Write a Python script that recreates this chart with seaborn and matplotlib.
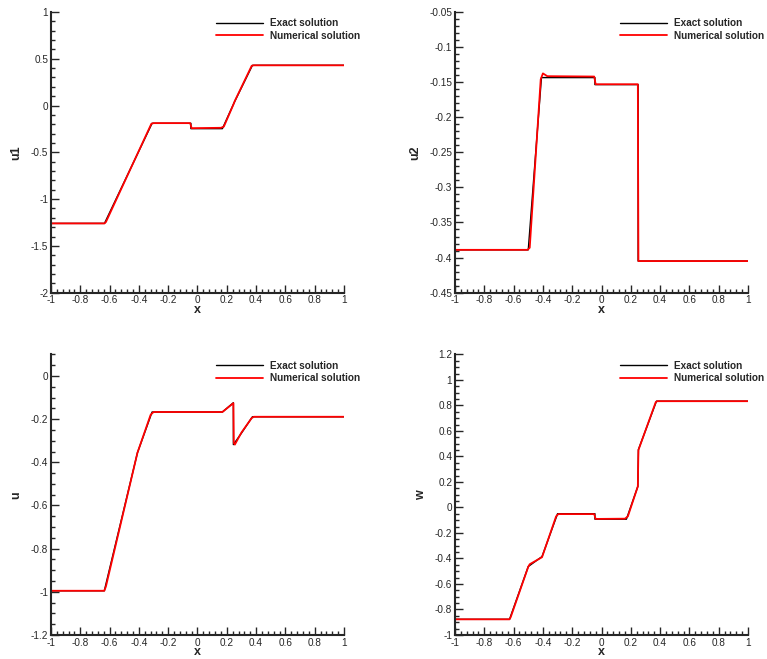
import numpy as np
import pandas as pd
import matplotlib
matplotlib.use('Agg')
import matplotlib.pyplot as plt
import seaborn as sns
from matplotlib.ticker import MultipleLocator

# u1 panel
u1_x_exact = [-1, -0.635, -0.31, -0.045, -0.045, 0.17, 0.25, 0.375, 1]
u1_y_exact = [-1.26, -1.26, -0.19, -0.19, -0.247, -0.247, 0.03, 0.43, 0.43]
u1_x_num = [-1, -0.635, -0.625, -0.315, -0.30, -0.05, -0.04, 0.16, 0.18, 0.245, 0.255, 0.37, 0.385, 1]
u1_y_num = [-1.26, -1.26, -1.245, -0.195, -0.188, -0.188, -0.242, -0.238, -0.225, 0.01, 0.05, 0.425, 0.43, 0.43]

# u2 panel
u2_x_exact = [-1, -0.50, -0.41, -0.045, -0.045, 0.25, 0.25, 1]
u2_y_exact = [-0.389, -0.389, -0.1435, -0.1435, -0.1535, -0.1535, -0.405, -0.405]
u2_x_num = [-1, -0.505, -0.49, -0.415, -0.40, -0.37, -0.05, -0.04, 0.248, 0.252, 1]
u2_y_num = [-0.389, -0.389, -0.386, -0.146, -0.1375, -0.1415, -0.142, -0.153, -0.153, -0.405, -0.405]

# u panel
u_x_exact = [-1, -0.636, -0.41, -0.31, 0.17, 0.245, 0.245, 0.30, 0.375, 1]
u_y_exact = [-0.995, -0.995, -0.356, -0.167, -0.167, -0.124, -0.318, -0.265, -0.189, -0.189]
u_x_num = [-1, -0.636, -0.625, -0.41, -0.32, -0.30, 0.17, 0.245, 0.248, 0.255, 0.30, 0.37, 0.385, 1]
u_y_num = [-0.995, -0.995, -0.975, -0.356, -0.18, -0.167, -0.167, -0.126, -0.31, -0.318, -0.262, -0.195, -0.189, -0.189]

# w panel
w_x_exact = [-1, -0.628, -0.50, -0.406, -0.30, -0.045, -0.045, 0.17, 0.248, 0.252, 0.375, 1]
w_y_exact = [-0.877, -0.877, -0.463, -0.385, -0.049, -0.049, -0.092, -0.092, 0.165, 0.454, 0.833, 0.833]
w_x_num = [-1, -0.628, -0.62, -0.50, -0.49, -0.406, -0.31, -0.295, -0.05, -0.04, 0.16, 0.18, 0.248, 0.252, 0.37, 0.38, 1]
w_y_num = [-0.877, -0.877, -0.86, -0.465, -0.445, -0.39, -0.07, -0.052, -0.052, -0.09, -0.088, -0.07, 0.165, 0.45, 0.825, 0.833, 0.833]

panels = [
    ('u1', u1_x_exact, u1_y_exact, u1_x_num, u1_y_num, (-2, 1), 0.5, 0.1),
    ('u2', u2_x_exact, u2_y_exact, u2_x_num, u2_y_num, (-0.45, -0.05), 0.05, 0.01),
    ('u', u_x_exact, u_y_exact, u_x_num, u_y_num, (-1.2, 0.1), 0.2, 0.05),
    ('w', w_x_exact, w_y_exact, w_x_num, w_y_num, (-1, 1.2), 0.2, 0.05),
]


def fmt(v, p):
    v = round(v, 6)
    if v == 0:
        return '0'
    return f'{v:g}'


sns.set_style('ticks')
plt.rcParams['font.family'] = ['Liberation Sans', 'DejaVu Sans']
plt.rcParams['xtick.direction'] = 'in'
plt.rcParams['ytick.direction'] = 'in'

fig, axes = plt.subplots(2, 2, figsize=(7.67, 6.59), dpi=100)
plt.subplots_adjust(left=51/767, right=748/767, bottom=0.0364, top=0.9818, wspace=0.379, hspace=0.22)

for ax, (name, xe, ye, xn, yn, ylim, major, minor) in zip(axes.flat, panels):
    df_e = pd.DataFrame({'x': xe, 'y': ye})
    df_n = pd.DataFrame({'x': xn, 'y': yn})
    sns.lineplot(x='x', y='y', data=df_e, ax=ax, color='black', lw=1.0,
                 estimator=None, sort=False, label='Exact solution')
    sns.lineplot(x='x', y='y', data=df_n, ax=ax, color='red', lw=1.3,
                 estimator=None, sort=False, label='Numerical solution')
    ax.set_xlim(-1, 1)
    ax.set_ylim(*ylim)
    ax.xaxis.set_major_locator(MultipleLocator(0.2))
    ax.xaxis.set_minor_locator(MultipleLocator(0.04))
    ax.yaxis.set_major_locator(MultipleLocator(major))
    ax.yaxis.set_minor_locator(MultipleLocator(minor))
    ax.xaxis.set_major_formatter(plt.FuncFormatter(fmt))
    ax.yaxis.set_major_formatter(plt.FuncFormatter(fmt))
    ax.tick_params(which='major', length=6, width=1, labelsize=7.2, pad=2)
    ax.tick_params(which='minor', length=3, width=1)
    sns.despine(ax=ax)
    for s in ['left', 'bottom']:
        ax.spines[s].set_linewidth(1.5)
    ax.set_xlabel('x', fontweight='bold', fontsize=9, labelpad=-1)
    ax.set_ylabel(name, fontweight='bold', fontsize=9, labelpad=6)
    leg = ax.legend(loc='upper left', bbox_to_anchor=(0.555, 0.985), frameon=False,
                    fontsize=7.2, handlelength=4.7, handletextpad=0.75,
                    labelspacing=0.25, borderpad=0, borderaxespad=0.2)
    for t in leg.get_texts():
        t.set_fontweight('bold')

plt.savefig('out.png', dpi=100)
